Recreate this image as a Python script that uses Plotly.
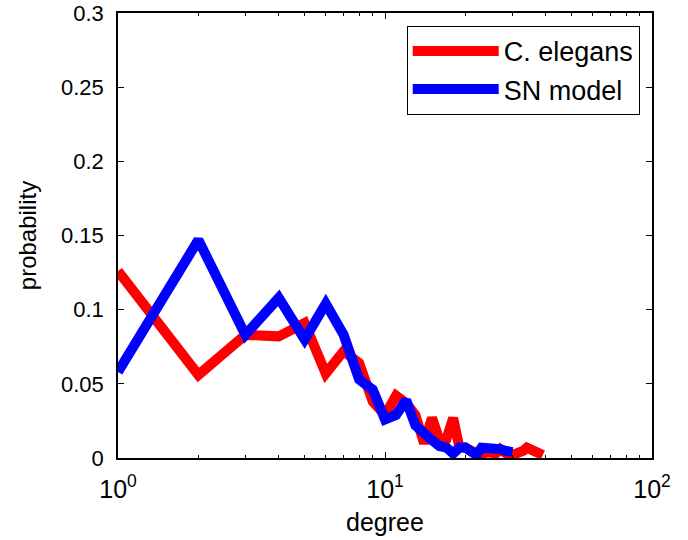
import plotly.graph_objects as go

# C. elegans degree distribution
elegans_k = list(range(1, 40))
elegans_p = [0.126, 0.056, 0.083, 0.082, 0.091, 0.057, 0.072, 0.064, 0.038, 0.029,
             0.042, 0.037, 0.029, 0.010, 0.027, 0.012, 0.013, 0.027, 0.007, 0.007,
             0.005, 0.004, 0.002, 0.004, 0.003, 0.003, 0.006, 0.003, 0.002, 0.002,
             0.003, 0.003, 0.005, 0.007, 0.006, 0.005, 0.004, 0.003, 0.002]

# SN model degree distribution
sn_k = list(range(1, 31))
sn_p = [0.058, 0.147, 0.083, 0.108, 0.080, 0.104, 0.083, 0.053, 0.046, 0.026,
        0.029, 0.039, 0.022, 0.016, 0.012, 0.008, 0.007, 0.003, 0.007, 0.007,
        0.005, 0.002, 0.007, 0.007, 0.007, 0.006, 0.006, 0.005, 0.004, 0.004]

x_tickvals = [1, 10, 100]
x_ticktext = ["10<sup>0</sup>", "10<sup>1</sup>", "10<sup>2</sup>"]
x_minor = [2, 3, 4, 5, 6, 7, 8, 9, 20, 30, 40, 50, 60, 70, 80, 90]
y_tickvals = [0, 0.05, 0.1, 0.15, 0.2, 0.25, 0.3]
y_ticktext = ["0", "0.05", "0.1", "0.15", "0.2", "0.25", "0.3"]

font = "Liberation Sans, Arial, sans-serif"

fig = go.Figure()
fig.add_trace(go.Scatter(x=elegans_k, y=elegans_p, mode="lines", name="C. elegans",
                         line=dict(color="#ff0000", width=10)))
fig.add_trace(go.Scatter(x=sn_k, y=sn_p, mode="lines", name="SN model",
                         line=dict(color="#0000ff", width=10)))

fig.update_layout(
    width=688, height=540,
    margin=dict(l=118, r=36, t=13, b=82, autoexpand=False),
    paper_bgcolor="white", plot_bgcolor="white",
    font=dict(family=font, size=22, color="black"),
    showlegend=True,
    legend=dict(x=0.977, y=0.971, xanchor="right", yanchor="top",
                bgcolor="white", bordercolor="black", borderwidth=1,
                font=dict(family=font, size=27, color="black"),
                tracegroupgap=0, itemwidth=86),
    xaxis=dict(type="log", range=[0, 2], tickvals=x_tickvals, ticktext=x_ticktext,
               ticks="inside", ticklen=6, tickwidth=1, tickcolor="black",
               showline=True, linecolor="black", linewidth=1.5, mirror="ticks",
               showgrid=False, zeroline=False, automargin=False,
               tickfont=dict(family=font, size=25, color="black"),
               ticklabelstandoff=8,
               minor=dict(tickvals=x_minor, ticks="inside", ticklen=3,
                          tickcolor="black", showgrid=False),
               title=dict(text="degree", font=dict(family=font, size=25, color="black"),
                          standoff=12)),
    yaxis=dict(range=[0, 0.3], tickvals=y_tickvals, ticktext=y_ticktext,
               ticks="inside", ticklen=6, tickwidth=1, tickcolor="black",
               showline=True, linecolor="black", linewidth=1.5, mirror="ticks",
               showgrid=False, zeroline=False, automargin=False,
               tickfont=dict(family=font, size=22, color="black"),
               ticklabelstandoff=8,
               title=dict(text="probability", font=dict(family=font, size=24, color="black"),
                          standoff=18)),
)

fig.write_html("out.html", config={"displayModeBar": False},
               post_script="document.body.style.margin='0';document.body.style.overflow='hidden';")
